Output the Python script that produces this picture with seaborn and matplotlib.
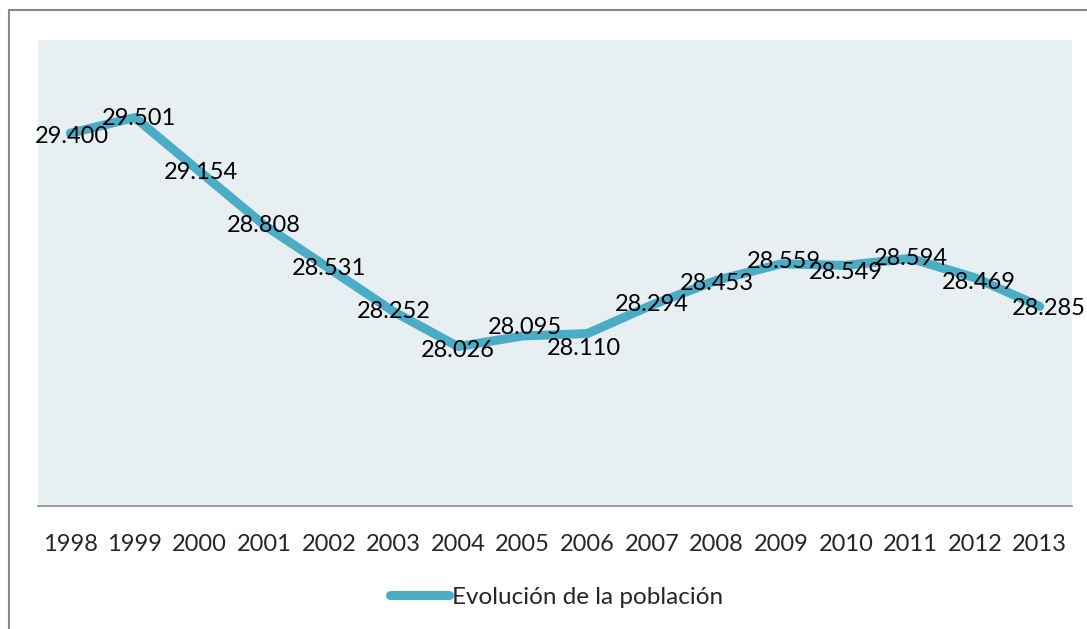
import matplotlib
matplotlib.use("Agg")
import matplotlib.pyplot as plt
import matplotlib.transforms as mtransforms
import seaborn as sns
import pandas as pd
from matplotlib.patches import Rectangle
from matplotlib.lines import Line2D

years = ["1998", "1999", "2000", "2001", "2002", "2003", "2004", "2005",
         "2006", "2007", "2008", "2009", "2010", "2011", "2012", "2013"]
values = [29.400, 29.501, 29.154, 28.808, 28.531, 28.252, 28.026, 28.095,
          28.110, 28.294, 28.453, 28.559, 28.549, 28.594, 28.469, 28.285]
labels = ["29.400", "29.501", "29.154", "28.808", "28.531", "28.252", "28.026", "28.095",
          "28.110", "28.294", "28.453", "28.559", "28.549", "28.594", "28.469", "28.285"]
series_name = "Evolución de la población"

# label nudges in pixels (dx, dy; +dy = down)
label_dx = [2, 4, 1, 0, 0, 0, 0, 2, -3, 0, 0, 3, 0, 0, 4, 9]
label_dy = [3, 1, 1, 0, 0, 0, 4, -8, 15, 0, 3, -2, 7, 0, 5, 2]

sns.set_style("white")
plt.rcParams["font.family"] = ["Lato", "DejaVu Sans"]

color = "#4BACC6"
df = pd.DataFrame({"idx": range(len(years)), "value": values})

fig = plt.figure(figsize=(10.87, 6.29), dpi=100)
ax = fig.add_axes([38/1087, 1-506/629, (1072-38)/1087, (506-40)/629])
ax.set_facecolor("#E8EFF3")

sns.lineplot(data=df, x="idx", y="value", ax=ax, color=color, linewidth=6.5,
             solid_joinstyle="round", solid_capstyle="round", legend=False)

for i, (v, lab) in enumerate(zip(values, labels)):
    tr = ax.transData + mtransforms.ScaledTranslation(label_dx[i]/100, -label_dy[i]/100,
                                                      fig.dpi_scale_trans)
    ax.text(i, v, lab, ha="center", va="center", fontsize=17, color="black",
            transform=tr, clip_on=False)

ax.set_xlim(-0.5, len(years) - 0.5)
ax.set_ylim(27.0, 30.0)
ax.set_xticks(range(len(years)))
ax.set_xticklabels(years, fontsize=17)
ax.set_yticks([])
ax.set_xlabel("")
ax.set_ylabel("")
ax.tick_params(axis="x", length=0, pad=20)
for s in ["top", "right", "left"]:
    ax.spines[s].set_visible(False)
ax.spines["bottom"].set_color("#8C8C8C")
ax.spines["bottom"].set_linewidth(1.2)

handle = Line2D([0], [0], color=color, linewidth=6.5, solid_capstyle="round")
fig.legend([handle], [series_name], loc="center", bbox_to_anchor=(557/1087, 1-597/629),
           frameon=False, fontsize=17.5, handlelength=2.4, handletextpad=0.15)

rect = Rectangle((9/1087, -0.1), 1.2, 1-10/629 + 0.1, transform=fig.transFigure,
                 fill=False, edgecolor="#888888", linewidth=1.5, clip_on=False)
fig.patches.append(rect)

fig.savefig("out.png", dpi=100)
